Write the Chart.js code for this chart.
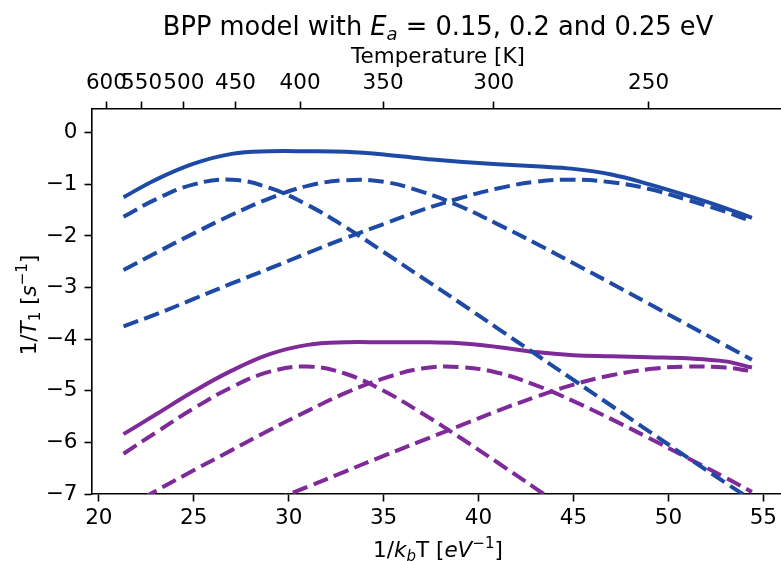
<!DOCTYPE html>
<html>
<head>
<meta charset="utf-8">
<title>BPP model</title>
<script src="https://cdn.jsdelivr.net/npm/chart.js@4.4.0/dist/chart.umd.min.js"></script>
<style>
  html, body { margin: 0; padding: 0; background: #fff; }
  #wrap { width: 781px; height: 561px; }
</style>
</head>
<body>
<div id="wrap"><canvas id="chart" width="781" height="561"></canvas></div>
<script>
// 1/kbT grid (eV^-1) the curves are read at
const invKT = [21.3, 23, 25, 27, 29, 31, 33, 35, 37, 39, 41, 43, 45, 47, 49, 51, 53, 54.4];

// ln(1/T1), blue group
const blueSum  = [-1.25, -0.91, -0.60, -0.41, -0.36, -0.36, -0.37, -0.42, -0.50, -0.56, -0.61, -0.65, -0.70, -0.81, -1.00, -1.22, -1.46, -1.65];
const blueEa25 = [-1.63, -1.29, -1.00, -0.91, -1.07, -1.40, -1.83, -2.31, -2.80, -3.29, -3.79, -4.29, -4.79, -5.29, -5.79, -6.29, -6.78, -7.12];
const blueEa20 = [-2.66, -2.33, -1.95, -1.59, -1.27, -1.03, -0.92, -0.95, -1.14, -1.42, -1.77, -2.14, -2.53, -2.92, -3.32, -3.72, -4.12, -4.40];
const blueEa15 = [-3.75, -3.52, -3.22, -2.92, -2.63, -2.33, -2.04, -1.77, -1.50, -1.27, -1.08, -0.95, -0.91, -0.96, -1.09, -1.30, -1.53, -1.72];

// ln(1/T1), purple group
const purpleSum  = [-5.84, -5.46, -5.01, -4.61, -4.29, -4.11, -4.06, -4.06, -4.06, -4.08, -4.15, -4.25, -4.31, -4.33, -4.35, -4.37, -4.43, -4.55];
const purpleEa25 = [-6.22, -5.81, -5.34, -4.93, -4.63, -4.53, -4.67, -5.00, -5.43, -5.90, -6.39, -6.89, -7.39, null, null, null, null, null];
const purpleEa20 = [-7.28, -6.94, -6.54, -6.15, -5.76, -5.39, -5.04, -4.76, -4.57, -4.54, -4.65, -4.89, -5.20, -5.55, -5.92, -6.30, -6.68, -6.96];
const purpleEa15 = [null, null, null, -7.45, -7.15, -6.86, -6.56, -6.26, -5.97, -5.68, -5.39, -5.12, -4.88, -4.70, -4.58, -4.53, -4.55, -4.62];

// axis ticks
const xTicks    = [20, 25, 30, 35, 40, 45, 50, 55];
const yTicks    = [0, -1, -2, -3, -4, -5, -6, -7];
const tempTicks = [600, 550, 500, 450, 400, 350, 300, 250];
const kbInv     = 12240; // K per eV^-1 used by the secondary axis

const BLUE   = "#1e4aa6";
const PURPLE = "#7e2a98";
const FONT   = "'DejaVu Sans', 'Liberation Sans', sans-serif";

function pts(ys) {
  return ys.map((y, i) => ({ x: invKT[i], y }));
}

function series(ys, color, dashed) {
  return {
    data: pts(ys),
    borderColor: color,
    borderWidth: 4,
    borderDash: dashed ? [15.5, 6.5] : [],
    borderCapStyle: "butt",
    pointRadius: 0,
    tension: 0.4,
    fill: false,
    spanGaps: false,
    clip: 0,
  };
}

// mixed-style text (italic, sub/superscript) drawn on the canvas
function partFont(p, size) {
  const s = p.sub || p.sup ? size * 0.7 : size;
  return (p.it ? "italic " : "") + s + "px " + FONT;
}

function drawRich(ctx, parts, cx, baseline, size) {
  let w = 0;
  for (const p of parts) {
    ctx.font = partFont(p, size);
    w += ctx.measureText(p.t).width;
  }
  let x = cx - w / 2;
  ctx.textAlign = "left";
  ctx.textBaseline = "alphabetic";
  for (const p of parts) {
    ctx.font = partFont(p, size);
    const dy = p.sub ? size * 0.2 : p.sup ? -size * 0.4 : 0;
    ctx.fillText(p.t, x, baseline + dy);
    x += ctx.measureText(p.t).width;
  }
}

const labelsPlugin = {
  id: "labels",
  afterDraw(chart) {
    const { ctx, chartArea } = chart;
    const cx = (chartArea.left + 784) / 2;
    ctx.save();
    ctx.fillStyle = "#000";
    drawRich(ctx, [
      { t: "BPP model with " }, { t: "E", it: 1 }, { t: "a", it: 1, sub: 1 },
      { t: " = 0.15, 0.2 and 0.25 eV" },
    ], cx, 35, 25.7);
    drawRich(ctx, [{ t: "Temperature [K]" }], cx, 63, 21.5);
    drawRich(ctx, [
      { t: "1/" }, { t: "k", it: 1 }, { t: "b", it: 1, sub: 1 }, { t: "T [" },
      { t: "eV", it: 1 }, { t: "\u22121", sup: 1 }, { t: "]" },
    ], cx, 557, 21.5);
    ctx.translate(36, 305);
    ctx.rotate(-Math.PI / 2);
    drawRich(ctx, [
      { t: "1/" }, { t: "T", it: 1 }, { t: "1", sub: 1 }, { t: " [" },
      { t: "s", it: 1 }, { t: "\u22121", sup: 1 }, { t: "]" },
    ], 0, 0, 21.5);
    ctx.restore();
  },
};

const tickFont = { family: FONT, size: 21.5 };
const gridOpts = { drawOnChartArea: false, drawTicks: true, tickLength: 7.5, tickWidth: 1.6, tickColor: "#000", color: "#000" };
const borderOpts = { display: true, color: "#000", width: 1.6 };

new Chart(document.getElementById("chart"), {
  type: "line",
  data: {
    datasets: [
      series(blueEa25, BLUE, true),
      series(blueEa20, BLUE, true),
      series(blueEa15, BLUE, true),
      series(blueSum, BLUE, false),
      series(purpleEa25, PURPLE, true),
      series(purpleEa20, PURPLE, true),
      series(purpleEa15, PURPLE, true),
      series(purpleSum, PURPLE, false),
    ],
  },
  options: {
    responsive: false,
    animation: false,
    devicePixelRatio: 1,
    layout: { padding: 0 },
    plugins: { legend: { display: false }, title: { display: false }, tooltip: { enabled: false } },
    scales: {
      x: {
        type: "linear",
        position: "bottom",
        min: 19.64,
        max: 55.9,
        afterBuildTicks: (s) => { s.ticks = xTicks.map((v) => ({ value: v })); },
        afterFit: (s) => { s.height = 67; },
        ticks: { font: tickFont, color: "#000", padding: 4, maxRotation: 0, autoSkip: false, callback: (v) => String(v) },
        grid: gridOpts,
        border: borderOpts,
      },
      x2: {
        type: "linear",
        position: "top",
        min: 19.64,
        max: 55.9,
        afterBuildTicks: (s) => { s.ticks = tempTicks.map((t) => ({ value: kbInv / t })); },
        afterFit: (s) => { s.height = 109; },
        ticks: { font: tickFont, color: "#000", padding: 5, maxRotation: 0, autoSkip: false, callback: (v, i) => String(tempTicks[i]) },
        grid: gridOpts,
        border: borderOpts,
      },
      y: {
        type: "linear",
        min: -7,
        max: 0.46,
        afterBuildTicks: (s) => { s.ticks = yTicks.map((v) => ({ value: v })); },
        afterFit: (s) => { s.width = 92; },
        ticks: { font: tickFont, color: "#000", padding: 7, autoSkip: false, callback: (v) => (v < 0 ? "\u2212" + Math.abs(v) : String(v)) },
        grid: gridOpts,
        border: borderOpts,
      },
    },
  },
  plugins: [labelsPlugin],
});
</script>
</body>
</html>
